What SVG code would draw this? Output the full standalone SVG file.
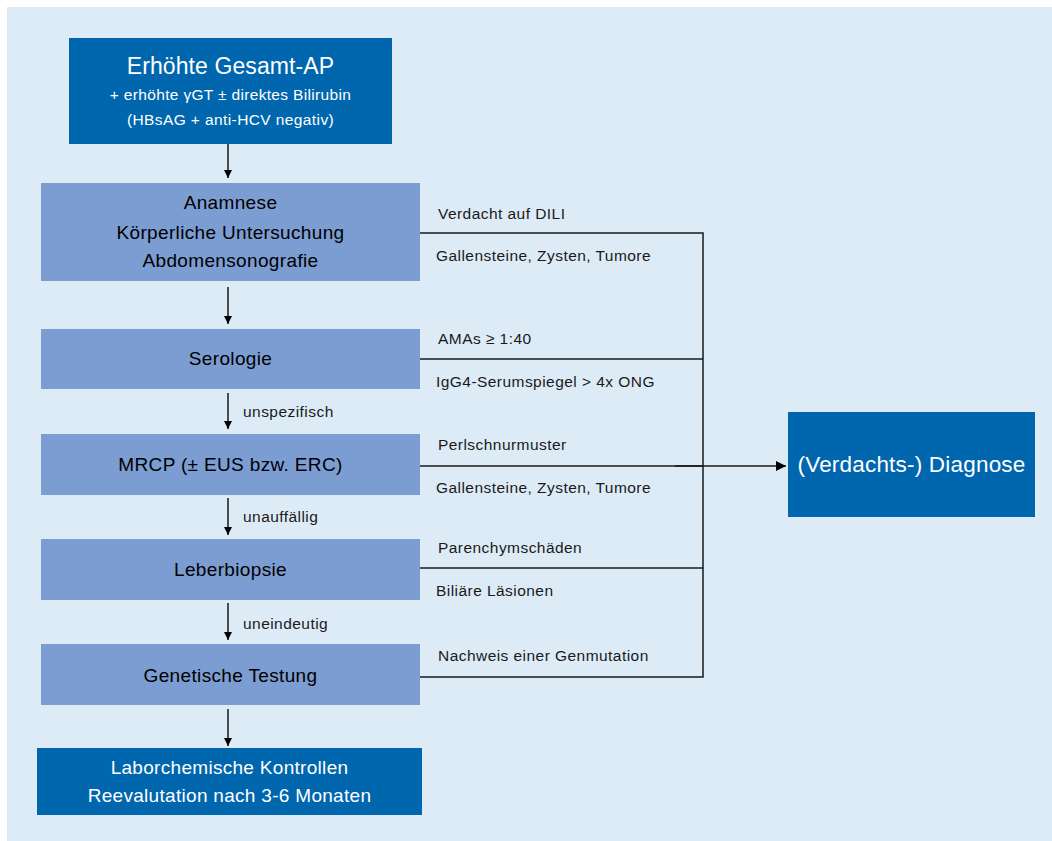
<svg xmlns="http://www.w3.org/2000/svg" width="1052" height="841" viewBox="0 0 1052 841">
<defs>
<style>
text{font-family:"Liberation Sans",Arial,sans-serif}
.dark{fill:#0066ae}
.light{fill:#7b9dd2}
.wt{fill:#ffffff;text-anchor:middle}
.bt{fill:#000000;text-anchor:middle;font-size:19px;letter-spacing:0.35px}
.lbl{fill:#1a1a1a;font-size:15.5px;letter-spacing:0.45px}
.ln{stroke:#1a1a1a;stroke-width:1.5;fill:none}
</style>
<marker id="ah" viewBox="0 0 10 10" refX="10" refY="5" markerWidth="8" markerHeight="8" markerUnits="userSpaceOnUse" orient="auto"><path d="M0,0 L10,5 L0,10 z" fill="#000"/></marker>
<marker id="ah2" viewBox="0 0 10 10" refX="10" refY="5" markerWidth="10" markerHeight="10" markerUnits="userSpaceOnUse" orient="auto"><path d="M0,0 L10,5 L0,10 z" fill="#000"/></marker>
</defs>
<rect x="7" y="7" width="1045" height="834" fill="#ddebf7"/>
<g id="n-start">
<rect class="dark" x="69" y="38" width="323" height="106"/>
<text class="wt" x="230.5" y="74" font-size="23" letter-spacing="0.1">Erhöhte Gesamt-AP</text>
<text class="wt" x="230.5" y="100" font-size="15.5" letter-spacing="0.33">+ erhöhte γGT ± direktes Bilirubin</text>
<text class="wt" x="230.5" y="125" font-size="15.5" letter-spacing="0.4">(HBsAG + anti-HCV negativ)</text>
</g>
<g id="n-anamnese">
<rect class="light" x="41" y="183" width="379" height="98"/>
<text class="bt" x="230.5" y="209">Anamnese</text>
<text class="bt" x="230.5" y="239">Körperliche Untersuchung</text>
<text class="bt" x="230.5" y="267">Abdomensonografie</text>
</g>
<g id="n-serologie">
<rect class="light" x="41" y="329" width="379" height="60"/>
<text class="bt" x="230.5" y="365">Serologie</text>
</g>
<g id="n-mrcp">
<rect class="light" x="41" y="434" width="379" height="61"/>
<text class="bt" x="230.5" y="471">MRCP (± EUS bzw. ERC)</text>
</g>
<g id="n-leber">
<rect class="light" x="41" y="539" width="379" height="61"/>
<text class="bt" x="230.5" y="576">Leberbiopsie</text>
</g>
<g id="n-genetik">
<rect class="light" x="41" y="644" width="379" height="61"/>
<text class="bt" x="230.5" y="682">Genetische Testung</text>
</g>
<g id="n-kontrolle">
<rect class="dark" x="37" y="748" width="385" height="67"/>
<text class="wt" x="229.5" y="774" font-size="19" letter-spacing="0.3">Laborchemische Kontrollen</text>
<text class="wt" x="229.5" y="802" font-size="19" letter-spacing="0.3">Reevalutation nach 3-6 Monaten</text>
</g>
<g id="n-diagnose">
<rect class="dark" x="788" y="412" width="247" height="105"/>
<text class="wt" x="911.5" y="472" font-size="22.5" letter-spacing="0.2">(Verdachts-) Diagnose</text>
</g>
<g id="connectors">
<line class="ln" x1="228" y1="144" x2="228" y2="178" marker-end="url(#ah)"/>
<line class="ln" x1="228" y1="287" x2="228" y2="324" marker-end="url(#ah)"/>
<line class="ln" x1="228" y1="393" x2="228" y2="429" marker-end="url(#ah)"/>
<line class="ln" x1="228" y1="498" x2="228" y2="535" marker-end="url(#ah)"/>
<line class="ln" x1="228" y1="603" x2="228" y2="640" marker-end="url(#ah)"/>
<line class="ln" x1="228" y1="709" x2="228" y2="746" marker-end="url(#ah)"/>
<polyline class="ln" points="420,233 703,233 703,677 420,677"/>
<line class="ln" x1="420" y1="359" x2="703" y2="359"/>
<line class="ln" x1="420" y1="466" x2="703" y2="466"/>
<line class="ln" x1="420" y1="568" x2="703" y2="568"/>
<line class="ln" x1="675" y1="466" x2="786" y2="466" marker-end="url(#ah2)"/>
<text class="lbl" x="243" y="417">unspezifisch</text>
<text class="lbl" x="243" y="522">unauffällig</text>
<text class="lbl" x="243" y="629">uneindeutig</text>
<text class="lbl" x="438" y="219">Verdacht auf DILI</text>
<text class="lbl" x="436" y="261">Gallensteine, Zysten, Tumore</text>
<text class="lbl" x="438" y="344">AMAs ≥ 1:40</text>
<text class="lbl" x="436" y="387">IgG4-Serumspiegel &gt; 4x ONG</text>
<text class="lbl" x="438" y="450">Perlschnurmuster</text>
<text class="lbl" x="436" y="493">Gallensteine, Zysten, Tumore</text>
<text class="lbl" x="438" y="553">Parenchymschäden</text>
<text class="lbl" x="436" y="596">Biliäre Läsionen</text>
<text class="lbl" x="438" y="661">Nachweis einer Genmutation</text>
</g>
</svg>
